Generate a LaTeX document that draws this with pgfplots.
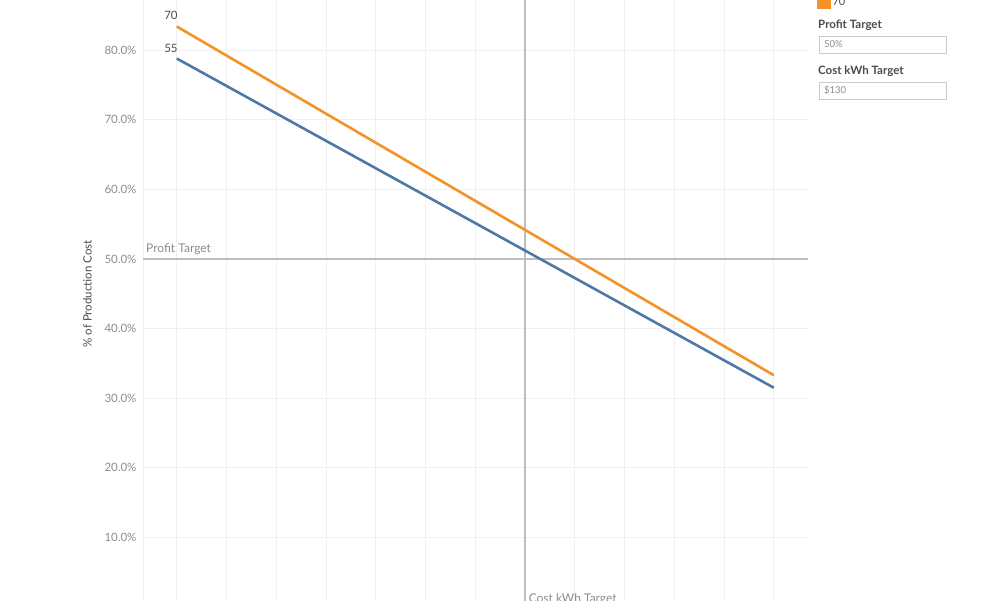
\documentclass[border=0pt]{standalone}
\usepackage{fontspec}
\setmainfont{Lato}
\usepackage{pgfplots}
\pgfplotsset{compat=1.18}
\definecolor{tabOrange}{RGB}{244,146,40}
\definecolor{tabBlue}{RGB}{78,121,167}
\definecolor{refgray}{RGB}{190,190,190}
\definecolor{gridgray}{RGB}{240,240,240}
\definecolor{ticktext}{RGB}{140,140,140}
\definecolor{darktext}{RGB}{75,75,75}
\begin{document}
\begin{tikzpicture}
\path[use as bounding box] (0pt,0pt) rectangle (1000pt,600pt);
\clip (0pt,0pt) rectangle (1000pt,600pt);
\begin{axis}[
  at={(143pt,-7pt)}, anchor=south west,
  x=4.975pt, y=6.96pt,
  xmin=53.2, xmax=186.9, ymin=0, ymax=90,
  xtick={60,70,...,180}, xticklabels={},
  ytick={0,10,...,80},
  yticklabel={\pgfmathprintnumber[fixed,fixed zerofill,precision=1]{\tick}\%},
  /pgf/number format/assume math mode=true,
  yticklabel style={font=\fontsize{11.5}{13}\selectfont, text=ticktext, xshift=-3pt},
  grid=major,
  major grid style={gridgray, line width=0.8pt},
  tick style={draw=none},
  axis y line*=left, axis x line*=bottom,
  axis line style={gridgray, line width=0.8pt, -},
  ylabel={\% of Production Cost},
  ylabel shift=6pt,
  ylabel style={font=\fontsize{11.5}{13}\selectfont, text=darktext},
  legend style={at={(axis description cs:1.013,0.955)}, anchor=south west,
    draw=none, fill=none, font=\fontsize{11}{12}\selectfont, text=darktext,
    row sep=4pt, inner sep=0pt},
  legend cell align=left,
  legend image code/.code={\fill (0pt,-5.5pt) rectangle (11pt,5.5pt);},
]
\addplot[refgray, line width=1.8pt, forget plot] coordinates {(53.2,50) (186.9,50)};
\addplot[refgray, line width=1.8pt, forget plot] coordinates {(130,0) (130,90)};
\addplot[tabBlue, fill=tabBlue, line width=2.6pt] coordinates {(60,78.8) (180,31.5)};
\addlegendentry{55}
\addplot[tabOrange, fill=tabOrange, line width=2.6pt] coordinates {(60,83.4) (180,33.3)};
\addlegendentry{70}
\node[anchor=south east, inner sep=1pt, font=\fontsize{11.5}{13}\selectfont, text=darktext] at (axis cs:60.4,84.2) {70};
\node[anchor=south east, inner sep=1pt, font=\fontsize{11.5}{13}\selectfont, text=darktext] at (axis cs:60.4,79.45) {55};
\node[anchor=south west, inner sep=1pt, font=\fontsize{12}{14}\selectfont, text=ticktext] at (axis cs:53.6,50.4) {Profit Target};
\node[anchor=north west, inner sep=1pt, font=\fontsize{12}{14}\selectfont, text=ticktext] at (axis cs:130.5,2.1) {Cost kWh Target};
\end{axis}
% parameter panel
\node[anchor=west, inner sep=0pt, font=\bfseries\fontsize{11.5}{13}\selectfont, text=darktext] at (818pt,575pt) {Profit Target};
\draw[refgray!80, line width=0.8pt, fill=white] (819pt,547pt) rectangle (946pt,564pt);
\node[anchor=west, inner sep=0pt, font=\fontsize{9.5}{11}\selectfont, text=ticktext] at (824pt,555.5pt) {50\%};
\node[anchor=west, inner sep=0pt, font=\bfseries\fontsize{11.5}{13}\selectfont, text=darktext] at (818pt,529pt) {Cost kWh Target};
\draw[refgray!80, line width=0.8pt, fill=white] (819pt,501pt) rectangle (946pt,518pt);
\node[anchor=west, inner sep=0pt, font=\fontsize{9.5}{11}\selectfont, text=ticktext] at (824pt,509.5pt) {\$130};
\end{tikzpicture}
\end{document}
